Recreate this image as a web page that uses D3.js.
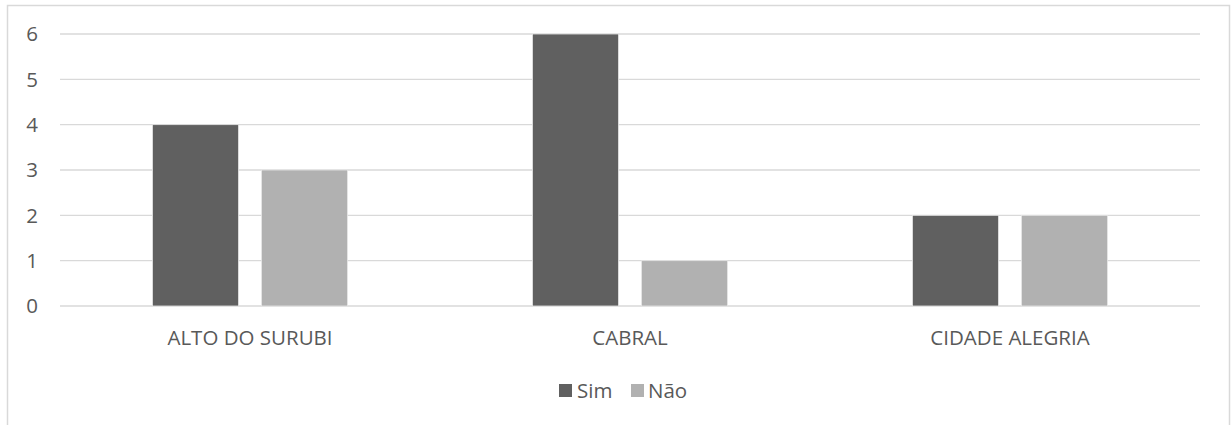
<!DOCTYPE html>
<html>
<head>
<meta charset="utf-8">
<script src="https://cdn.jsdelivr.net/npm/d3@7"></script>
<style>
  html, body { margin: 0; padding: 0; background: #fff; }
  svg { display: block; }
  text { font-family: "Open Sans", Lato, sans-serif; fill: #595959; }
</style>
</head>
<body>
<svg id="chart" width="1231" height="425"></svg>
<script>
// Responses per neighbourhood
const categories = ["ALTO DO SURUBI", "CABRAL", "CIDADE ALEGRIA"];
const seriesNames = ["Sim", "Não"];
const simValues = [4, 6, 2];
const naoValues = [3, 1, 2];
const yTicks = [0, 1, 2, 3, 4, 5, 6];
const colors = ["#606060", "#b1b1b1"];
const fontSize = 20.5;

const svg = d3.select("#chart");

// chart frame
svg.append("rect")
  .attr("x", 7.5).attr("y", 5.5)
  .attr("width", 1222).attr("height", 430)
  .attr("fill", "#fff").attr("stroke", "#d9d9d9").attr("stroke-width", 1.5);

const plot = { left: 60, right: 1200, top: 34, bottom: 306 };

const x0 = d3.scaleBand()
  .domain(categories)
  .range([plot.left, plot.right])
  .paddingInner(0).paddingOuter(0);

const barW = 86, barGap = 23;
const x1 = d3.scaleOrdinal()
  .domain(seriesNames)
  .range([-(barW + barGap / 2), barGap / 2]);

const y = d3.scaleLinear().domain([0, 6]).range([plot.bottom, plot.top]);

// gridlines
svg.append("g")
  .selectAll("line")
  .data(yTicks)
  .join("line")
  .attr("x1", plot.left).attr("x2", plot.right)
  .attr("y1", d => y(d)).attr("y2", d => y(d))
  .attr("stroke", "#d9d9d9").attr("stroke-width", 1.3);

// y tick labels
svg.append("g")
  .selectAll("text")
  .data(yTicks)
  .join("text")
  .attr("x", 38).attr("y", d => y(d))
  .attr("dy", "0.36em")
  .attr("text-anchor", "end")
  .attr("font-size", fontSize)
  .text(d => d);

// bars
const rows = categories.map((c, i) => ({ cat: c, vals: [simValues[i], naoValues[i]] }));
const groups = svg.append("g")
  .selectAll("g")
  .data(rows)
  .join("g")
  .attr("transform", d => `translate(${x0(d.cat) + x0.bandwidth() / 2},0)`);

groups.selectAll("rect")
  .data(d => d.vals.map((v, j) => ({ name: seriesNames[j], v, j })))
  .join("rect")
  .attr("x", d => x1(d.name))
  .attr("width", barW)
  .attr("y", d => y(d.v))
  .attr("height", d => y(0) - y(d.v))
  .attr("fill", d => colors[d.j])
  .attr("stroke", "#e6e6e6")
  .attr("stroke-width", 0.8);

// category labels
svg.append("g")
  .selectAll("text")
  .data(categories)
  .join("text")
  .attr("x", d => x0(d) + x0.bandwidth() / 2)
  .attr("y", 344.5)
  .attr("text-anchor", "middle")
  .attr("font-size", fontSize)
  .text(d => d);

// legend
const legendItems = [
  { name: "Sim", sx: 559, tx: 577 },
  { name: "Não", sx: 631, tx: 648 }
];
const legend = svg.append("g");
legend.selectAll("rect")
  .data(legendItems)
  .join("rect")
  .attr("x", d => d.sx).attr("y", 384)
  .attr("width", 13).attr("height", 13)
  .attr("fill", (d, i) => colors[i]);
legend.selectAll("text")
  .data(legendItems)
  .join("text")
  .attr("x", d => d.tx).attr("y", 397.5)
  .attr("font-size", fontSize)
  .text(d => d.name);
</script>
</body>
</html>
